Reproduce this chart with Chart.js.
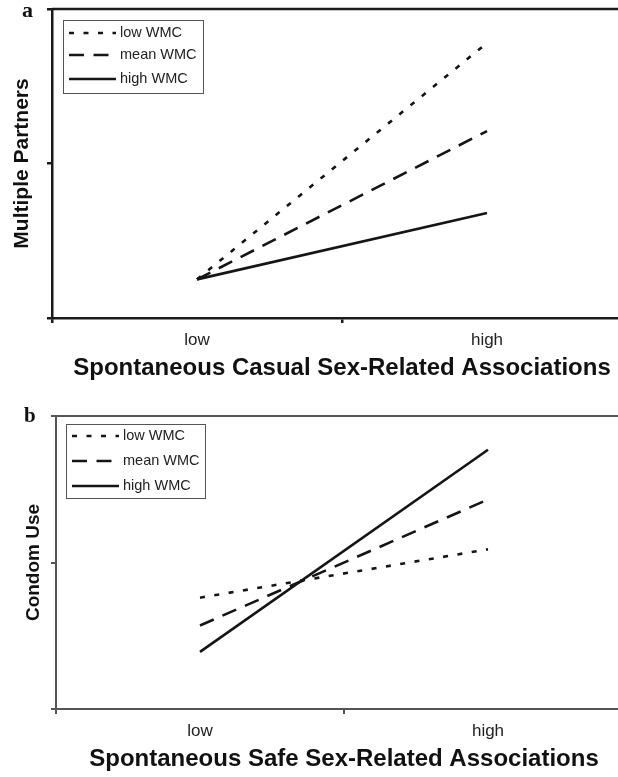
<!DOCTYPE html>
<html>
<head>
<meta charset="utf-8">
<script src="https://cdn.jsdelivr.net/npm/chart.js@4.4.0/dist/chart.umd.min.js"></script>
<style>
  html, body { margin: 0; padding: 0; background: #fff; overflow: hidden; }
  .panel { position: absolute; left: 0; }
  .letter {
    position: absolute;
    font-family: "Liberation Serif", "DejaVu Serif", serif;
    font-weight: bold;
    color: #111;
  }
</style>
</head>
<body>
<div class="panel" style="top:0"><canvas id="chartA" width="640" height="390"></canvas></div>
<div class="panel" style="top:390px"><canvas id="chartB" width="640" height="387"></canvas></div>
<div class="letter" style="left:22px;top:-3px;font-size:22px">a</div>
<div class="letter" style="left:24px;top:403px;font-size:21px">b</div>
<script>
// categories on the x axis
const categories = ['low', 'high'];
const seriesLabels = ['low WMC', 'mean WMC', 'high WMC'];

// panel a: multiple partners
const partnersLowWMC = [0.25, 1.78];
const partnersMeanWMC = [0.25, 1.21];
const partnersHighWMC = [0.25, 0.68];

// panel b: condom use
const condomLowWMC = [0.76, 1.09];
const condomMeanWMC = [0.57, 1.43];
const condomHighWMC = [0.39, 1.77];

const FONT = '"Liberation Sans", Arial, Helvetica, sans-serif';
const dashes = [[5, 9.5], [15, 9.5], []];

// top frame line + boxed legend inside the plot area
const panelDecor = {
  id: 'panelDecor',
  afterDraw(chart, args, opts) {
    const { ctx, chartArea: a } = chart;
    ctx.save();
    ctx.strokeStyle = opts.frameColor;
    ctx.lineWidth = opts.frameWidth;
    ctx.beginPath();
    ctx.moveTo(a.left, a.top);
    ctx.lineTo(a.right, a.top);
    ctx.stroke();

    const bx = a.left + opts.box[0], by = a.top + opts.box[1];
    const bw = opts.box[2], bh = opts.box[3];
    ctx.fillStyle = '#fff';
    ctx.fillRect(bx, by, bw, bh);
    ctx.strokeStyle = '#555';
    ctx.lineWidth = 1;
    ctx.strokeRect(bx + 0.5, by + 0.5, bw, bh);

    ctx.font = '14.5px ' + FONT;
    ctx.textBaseline = 'middle';
    chart.data.datasets.forEach((ds, i) => {
      const y = by + opts.rows[i];
      ctx.strokeStyle = ds.borderColor;
      ctx.lineWidth = ds.borderWidth;
      ctx.setLineDash(ds.borderDash || []);
      ctx.beginPath();
      ctx.moveTo(bx + 6, y);
      ctx.lineTo(bx + 53, y);
      ctx.stroke();
      ctx.setLineDash([]);
      ctx.fillStyle = '#222';
      ctx.fillText(ds.label, bx + 57, y);
    });
    ctx.restore();
  }
};

function makeDatasets(values) {
  return values.map((v, i) => ({
    label: seriesLabels[i],
    data: v,
    borderColor: '#151515',
    borderWidth: 2.6,
    borderDash: dashes[i],
    borderCapStyle: 'butt',
    pointRadius: 0,
    fill: false,
    tension: 0,
  }));
}

function initPanel(id, values, xTitle, yTitle, s) {
  new Chart(document.getElementById(id), {
    type: 'line',
    data: { labels: categories, datasets: makeDatasets(values) },
    plugins: [panelDecor],
    options: {
      responsive: false,
      animation: false,
      layout: { padding: { top: s.top, right: 8, left: 0, bottom: 0 } },
      plugins: {
        legend: { display: false },
        tooltip: { enabled: false },
        panelDecor: { frameColor: s.axisColor, frameWidth: s.axisWidth, box: s.box, rows: s.rows },
      },
      scales: {
        x: {
          type: 'category',
          offset: true,
          grid: { offset: true, drawOnChartArea: false, tickLength: 5, color: s.axisColor, lineWidth: s.axisWidth },
          border: { color: s.axisColor, width: s.axisWidth },
          ticks: { font: { family: FONT, size: 17 }, color: '#222', padding: 7, maxRotation: 0 },
          title: {
            display: true, text: xTitle, color: '#111',
            font: { family: FONT, size: 24, weight: 'bold' },
            padding: { top: 0, bottom: s.xTitlePad },
          },
          afterFit(scale) { scale.height = s.xHeight; },
        },
        y: {
          min: 0, max: 2,
          ticks: { display: false, stepSize: 1 },
          grid: { drawOnChartArea: false, tickLength: 5, color: s.axisColor, lineWidth: s.axisWidth },
          border: { color: s.axisColor, width: s.axisWidth },
          title: {
            display: true, text: yTitle, color: '#111',
            font: { family: FONT, size: s.yTitleSize, weight: 'bold' },
            padding: { top: s.yTitlePad, bottom: 0 },
          },
          afterFit(scale) { scale.width = s.yWidth; },
        },
      },
    },
  });
}

initPanel('chartA', [partnersLowWMC, partnersMeanWMC, partnersHighWMC],
  'Spontaneous Casual Sex-Related Associations', 'Multiple Partners',
  { top: 9, xHeight: 72, yWidth: 52, axisColor: '#1a1a1a', axisWidth: 2.5,
    xTitlePad: 7, yTitleSize: 21, yTitlePad: 10,
    box: [11, 11, 140, 73], rows: [13, 35, 59] });

initPanel('chartB', [condomLowWMC, condomMeanWMC, condomHighWMC],
  'Spontaneous Safe Sex-Related Associations', 'Condom Use',
  { top: 26, xHeight: 68, yWidth: 56, axisColor: '#555', axisWidth: 2,
    xTitlePad: 3, yTitleSize: 19, yTitlePad: 22,
    box: [10, 8, 139, 74], rows: [12, 37, 62] });
</script>
</body>
</html>
